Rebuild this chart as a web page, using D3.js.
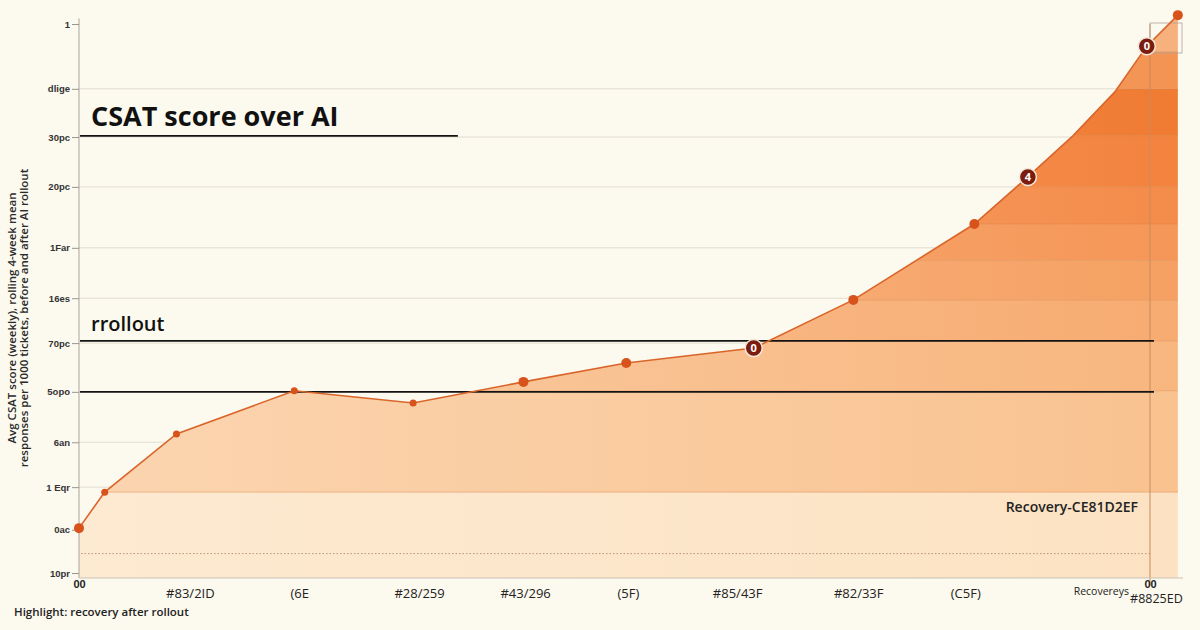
<!DOCTYPE html>
<html>
<head>
<meta charset="utf-8">
<script src="https://cdn.jsdelivr.net/npm/d3@7"></script>
<style>
  body { margin: 0; background: #fcf9ee; }
  svg { display: block; font-family: "Open Sans", "DejaVu Sans", sans-serif; }
</style>
</head>
<body>
<div class="chart"></div>
<script>
"use strict"

let width = 1200,
    height = 630;

// x position of each observation (weeks, 0..100) and CSAT value (0..100)
const weeks = [0, 2.4, 9.1, 20.1, 31.2, 41.5, 51.1, 63.0, 72.3, 83.6, 88.6, 92.8, 96.7, 99.7, 102.6];
const csat = [9.0, 15.5, 26.0, 33.8, 31.6, 35.4, 38.8, 41.5, 50.2, 63.9, 72.4, 79.8, 87.7, 96.0, 101.6];
// marker kind per point: 0 = none, 1 = small, 2 = normal, 3 = badge
const markerKind = [2, 1, 1, 1, 1, 2, 2, 3, 2, 2, 3, 0, 0, 3, 2];
const badgeText = ["", "", "", "", "", "", "", "0", "", "", "4", "", "", "0", ""];

const yTickValues = [100, 88.3, 79.6, 70.6, 59.6, 50.5, 42.4, 33.6, 24.5, 16.4, 8.7, 0.9];
const yTickLabels = ["1", "dlige", "30pc", "20pc", "1Far", "16es", "70pc", "5opo", "6an", "1 Eqr", "0ac", "10pr"];

const xCatValues = [10.4, 20.6, 31.8, 41.7, 51.3, 61.5, 72.8, 82.8, 100.6];
const xCatLabels = ["#83/2ID", "(6E", "#28/259", "#43/296", "(5F)", "#85/43F", "#82/33F", "(C5F)", "#8825ED"];

// stripes inside the filled area
const bandEdges = [0, 15.5, 33.8, 42.8, 50.2, 57.3, 63.9, 70.6, 79.8, 88.3, 95.0, 110];
const bandColors = ["#fce2c2", "#f9c28f", "#f8b67e", "#f7ab70", "#f6a062", "#f59656", "#f48b49", "#f3823d", "#f07a31", "#f39352", "#f6b07c"];

const refLines = [
    { value: 79.8, x0: 0, x1: 35, label: "CSAT score over AI" },
    { value: 42.8, x0: 0, x1: 100, label: "rrollout" },
    { value: 33.6, x0: 0, x1: 100, label: "" }
];

const svg = d3.select("div.chart").append("svg")
    .attr("width", width)
    .attr("height", height);

const scaleX = d3.scaleLinear()
    .domain([0, 100])
    .range([79, 1150]);

const scaleY = d3.scaleLinear()
    .domain([0, 100])
    .range([578, 24]);

const pts = weeks.map((w, i) => ({ w: w, v: csat[i], k: markerKind[i], t: badgeText[i] }));

// light grid
svg.append("g")
    .selectAll("line")
    .data(yTickValues.slice(1, -1))
    .join("line")
    .attr("x1", scaleX(0))
    .attr("x2", scaleX(100))
    .attr("y1", d => scaleY(d))
    .attr("y2", d => scaleY(d))
    .attr("stroke", "#e2ddd0")
    .attr("stroke-width", 1);

//area
const area = d3.area()
    .x(d => scaleX(d.w))
    .y0(scaleY(0))
    .y1(d => scaleY(d.v));

const defs = svg.append("defs");
defs.append("clipPath")
    .attr("id", "areaClip")
    .append("path")
    .attr("d", area(pts));

const grad = defs.append("linearGradient")
    .attr("id", "fade")
    .attr("x1", "0%").attr("x2", "100%")
    .attr("y1", "0%").attr("y2", "0%");
grad.append("stop").attr("offset", "0%").attr("stop-color", "#fff8ee").attr("stop-opacity", 0.35);
grad.append("stop").attr("offset", "100%").attr("stop-color", "#fff8ee").attr("stop-opacity", 0);

const fill = svg.append("g").attr("clip-path", "url(#areaClip)");
fill.selectAll("rect.band")
    .data(bandColors)
    .join("rect")
    .attr("class", "band")
    .attr("x", scaleX(0))
    .attr("width", 1120)
    .attr("y", (d, i) => scaleY(bandEdges[i + 1]))
    .attr("height", (d, i) => scaleY(bandEdges[i]) - scaleY(bandEdges[i + 1]))
    .attr("fill", d => d);
fill.append("rect")
    .attr("x", scaleX(0))
    .attr("y", 0)
    .attr("width", 1120)
    .attr("height", 600)
    .attr("fill", "url(#fade)");
fill.selectAll("line.edge")
    .data(bandEdges.slice(1, -1))
    .join("line")
    .attr("class", "edge")
    .attr("x1", scaleX(0))
    .attr("x2", 1200)
    .attr("y1", d => scaleY(d))
    .attr("y2", d => scaleY(d))
    .attr("stroke", "#d9844a")
    .attr("stroke-opacity", 0.45);
fill.append("line")
    .attr("x1", scaleX(0) + 2)
    .attr("x2", scaleX(100))
    .attr("y1", scaleY(4.4))
    .attr("y2", scaleY(4.4))
    .attr("stroke", "#b89478")
    .attr("stroke-dasharray", "1.5,2");

// vertical marker line at end of range
svg.append("line")
    .attr("x1", scaleX(100))
    .attr("x2", scaleX(100))
    .attr("y1", scaleY(100))
    .attr("y2", scaleY(0) + 8)
    .attr("stroke", "#c98a5c")
    .attr("stroke-width", 1);
svg.append("rect")
    .attr("x", scaleX(100))
    .attr("y", 23)
    .attr("width", 32)
    .attr("height", 30)
    .attr("fill", "none")
    .attr("stroke", "#b0a49a")
    .attr("stroke-width", 0.8);

// axes
const yAxis = d3.axisLeft(scaleY)
    .tickValues(yTickValues)
    .tickSize(7)
    .tickFormat((d, i) => yTickLabels[i]);
const gy = svg.append("g")
    .attr("transform", "translate(" + scaleX(0) + ",0)")
    .call(yAxis);
gy.select(".domain").attr("stroke", "#a9a59c").attr("d", "M0," + scaleY(101) + "V" + scaleY(0));
gy.selectAll(".tick line").attr("stroke", "#9a968d");
gy.selectAll(".tick text")
    .attr("fill", "#333")
    .attr("font-size", 9.5)
    .attr("font-weight", 600)
    .attr("x", -9);

const xAxis = d3.axisBottom(scaleX)
    .tickValues([0, 100])
    .tickSize(0)
    .tickFormat(() => "00");
const gx = svg.append("g")
    .attr("transform", "translate(0," + scaleY(0) + ")")
    .call(xAxis);
gx.select(".domain").attr("stroke", "#c9c2b6").attr("d", "M" + scaleX(0) + ",0H1183");
gx.selectAll(".tick text")
    .attr("fill", "#222")
    .attr("font-size", 11)
    .attr("font-weight", 700)
    .attr("y", 0)
    .attr("dy", "0.95em");

svg.append("g")
    .selectAll("text")
    .data(xCatLabels)
    .join("text")
    .attr("x", (d, i) => scaleX(xCatValues[i]))
    .attr("y", (d, i) => i === xCatLabels.length - 1 ? 603 : 598)
    .attr("text-anchor", "middle")
    .attr("font-size", (d, i) => i === xCatLabels.length - 1 ? 12.5 : 13)
    .attr("fill", "#222")
    .text(d => d);
svg.append("text")
    .attr("x", 1129)
    .attr("y", 595)
    .attr("text-anchor", "end")
    .attr("font-size", 10.5)
    .attr("fill", "#222")
    .text("Recovereys");

// reference lines with labels
refLines.forEach(r => {
    svg.append("line")
        .attr("x1", scaleX(r.x0) + 1)
        .attr("x2", scaleX(r.x1) + 4)
        .attr("y1", scaleY(r.value))
        .attr("y2", scaleY(r.value))
        .attr("stroke", "#141414")
        .attr("stroke-width", 1.8);
});
svg.append("text")
    .attr("x", 91)
    .attr("y", 126)
    .attr("font-size", 27)
    .attr("font-weight", 700)
    .attr("fill", "#111")
    .text(refLines[0].label);
svg.append("text")
    .attr("x", 91)
    .attr("y", 331)
    .attr("font-size", 20)
    .attr("font-weight", 600)
    .attr("fill", "#111")
    .text(refLines[1].label);

svg.append("text")
    .attr("x", 1138)
    .attr("y", 512)
    .attr("text-anchor", "end")
    .attr("font-size", 14)
    .attr("font-weight", 600)
    .attr("fill", "#222")
    .text("Recovery-CE81D2EF");

// line + markers
const line = d3.line()
    .x(d => scaleX(d.w))
    .y(d => scaleY(d.v));
svg.append("path")
    .attr("d", line(pts))
    .attr("fill", "none")
    .attr("stroke", "#d9652a")
    .attr("stroke-width", 1.6);

svg.append("g")
    .selectAll("circle")
    .data(pts.filter(d => d.k > 0))
    .join("circle")
    .attr("cx", d => scaleX(d.w))
    .attr("cy", d => scaleY(d.v))
    .attr("r", d => d.k === 1 ? 3.5 : d.k === 2 ? 5 : 8.5)
    .attr("fill", d => d.k === 3 ? "#7a1d0e" : "#d8521c")
    .attr("stroke", d => d.k === 3 ? "#f3e6da" : "none")
    .attr("stroke-width", 1.5);
svg.append("g")
    .selectAll("text")
    .data(pts.filter(d => d.k === 3))
    .join("text")
    .attr("x", d => scaleX(d.w))
    .attr("y", d => scaleY(d.v) + 4)
    .attr("text-anchor", "middle")
    .attr("font-size", 11)
    .attr("font-weight", 700)
    .attr("fill", "#fff")
    .text(d => d.t);

// y title
const yTitle = svg.append("text")
    .attr("transform", "translate(16,318) rotate(-90)")
    .attr("text-anchor", "middle")
    .attr("font-size", 11.5)
    .attr("font-weight", 600)
    .attr("fill", "#2a2a2a");
yTitle.append("tspan").attr("x", 0).attr("dy", 0).text("Avg CSAT score (weekly), rolling 4-week mean");
yTitle.append("tspan").attr("x", 0).attr("dy", 12).text("responses per 1000 tickets, before and after AI rollout");

svg.append("text")
    .attr("x", 14)
    .attr("y", 616)
    .attr("font-size", 11.5)
    .attr("font-weight", 600)
    .attr("fill", "#222")
    .text("Highlight: recovery after rollout");
</script>
</body>
</html>
